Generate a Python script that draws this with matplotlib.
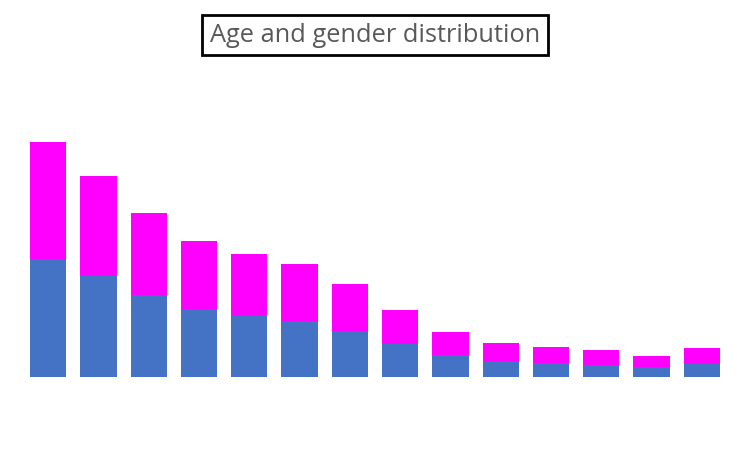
import matplotlib
matplotlib.use("Agg")
import matplotlib.pyplot as plt
import numpy as np

age_groups = ["0-4", "5-9", "10-14", "15-19", "20-24", "25-29", "30-34",
              "35-39", "40-44", "45-49", "50-54", "55-59", "60-64", "65+"]
male = [118, 101, 82, 68, 61, 56, 46, 33, 22, 16, 14, 12, 10, 13]
female = [117, 100, 82, 68, 62, 57, 47, 34, 23, 18, 16, 15, 11, 16]

fig = plt.figure(figsize=(7.5, 4.49), dpi=100)
W, H = 750, 449
ax = fig.add_axes([23 / W, 72 / H, 704 / W, 297 / H])
x = np.arange(len(age_groups))
ax.bar(x, male, width=0.72, color="#4472C4", label="Male")
ax.bar(x, female, bottom=male, width=0.72, color="#FF00FF", label="Female")
ax.set_xlim(-0.5, len(age_groups) - 0.5)
ax.set_ylim(0, 297)
ax.axis("off")

fig.text(375 / W, 1 - 35 / H, "Age and gender distribution", ha="center", va="center",
         fontsize=18.3, color="#595959", family=["Open Sans", "DejaVu Sans"],
         bbox=dict(boxstyle="square,pad=0.3", facecolor="white", edgecolor="black", linewidth=2))

fig.savefig("out.png", dpi=100, facecolor="white")
